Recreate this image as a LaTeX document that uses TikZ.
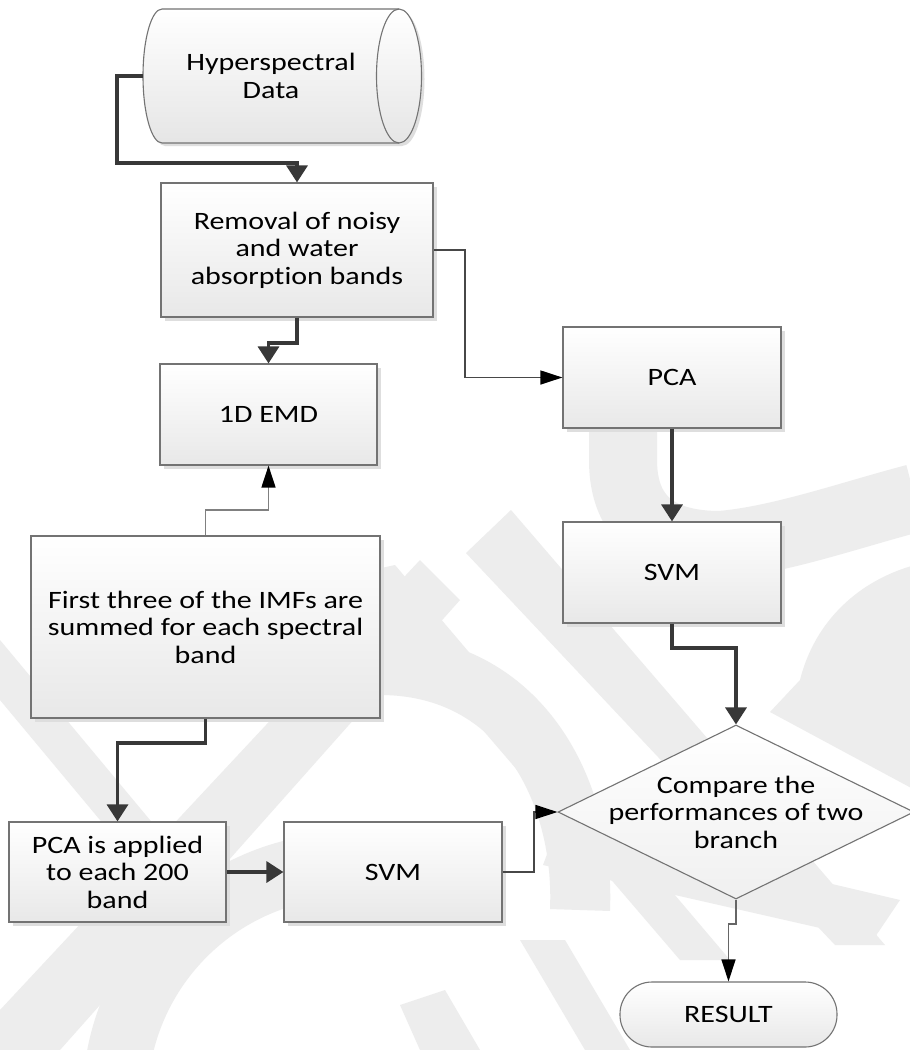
\documentclass[tikz,border=0pt]{standalone}
\usepackage{fontspec}
\setmainfont{Carlito}[FakeStretch=1.2,Ligatures={NoCommon}]
\usetikzlibrary{arrows.meta,shapes.geometric,shadows}
\begin{document}
\begin{tikzpicture}[x=1pt,y=-1pt,
  wm/.style={fill=black!7},
  wml/.style={draw=black!7},
  txt/.style={font=\fontsize{25}{27.5}\selectfont, align=center, text=black},
  shade/.style={top color=white, bottom color=black!9},
  box/.style={txt, shade, draw=black!55, line width=1.2pt, inner sep=0pt,
    drop shadow={shadow xshift=4pt, shadow yshift=-4pt, fill=black!13, opacity=1}},
  tk/.style={draw=black!78, line width=3.4pt, -{Triangle[width=21pt,length=17pt]}},
  tn/.style={draw=black!72, line width=1.4pt, -{Triangle[width=14pt,length=22pt,color=black]}},
]
\useasboundingbox (0,0) rectangle (910,1050);
\fill[white] (0,0) rectangle (910,1050);

% ---- watermark (faint) ----
\begin{scope}
\clip (0,0) rectangle (910,1050);
\fill[wm] (511,510) -- (885,945) -- (835,945) -- (466,553) -- cycle;
\fill[wm] (395,565) -- (730,960) -- (680,960) -- (350,575) -- cycle;
\fill[wm] (0,640) -- (200,880) -- (150,880) -- (0,700) -- cycle;
\fill[wm] (420,560) -- (460,600) -- (60,1050) -- (0,1050) -- (0,1010) -- cycle;
\fill[wm] (543,865) -- (873,940) -- (900,900) -- (560,820) -- cycle;
\draw[wml, line width=65pt] (350,1100) ++(160:235) arc[start angle=160, end angle=265, radius=235];
\draw[wml, line width=60pt] (380,665) .. controls (520,665) and (585,790) .. (580,910);
\draw[wml, line width=68pt] (623,410) -- (623,460) .. controls (623,520) and (660,545) .. (720,545)
   .. controls (780,540) and (850,515) .. (915,498);
\fill[wm] (915,565) .. controls (860,580) and (815,620) .. (800,680) -- (770,712) -- (915,790) -- cycle;
\fill[wm] (520,940) -- (565,940) -- (630,1050) -- (585,1050) -- cycle;
\fill[wm] (400,1005) -- (445,990) -- (480,1050) -- (420,1050) -- cycle;
\end{scope}

% ---- cylinder ----
\fill[black!13] ([xshift=3pt,yshift=-3pt]162,9) -- ++(237,0) arc[start angle=-90,end angle=90,x radius=22.5,y radius=67]
  -- ++(-237,0) arc[start angle=90,end angle=270,x radius=19,y radius=67] -- cycle;
\path[draw=black!55, line width=1.1pt, top color=white, bottom color=black!10]
  (162,9) -- (399,9) arc[start angle=-90,end angle=90,x radius=22.5,y radius=67]
  -- (162,143) arc[start angle=90,end angle=270,x radius=19,y radius=67] -- cycle;
\draw[black!55, line width=1.1pt] (399,9) arc[start angle=-90,end angle=-270,x radius=22.5,y radius=67];
\node[txt, minimum width=256pt, minimum height=134pt, inner sep=0pt] (hyp) at (271,76) {Hyperspectral\\Data};

% ---- boxes ----
\node[box, minimum width=272pt, minimum height=134pt] (rem) at (297,250) {Removal of noisy\\and water\\absorption bands};
\node[box, minimum width=217pt, minimum height=101pt] (emd) at (268.5,414.5) {1D EMD};
\node[box, minimum width=349pt, minimum height=182pt] (first) at (205.5,627) {First three of the IMFs are\\summed for each spectral\\band};
\node[box, minimum width=217pt, minimum height=100pt] (pcaapp) at (117.5,872) {PCA is applied\\to each 200\\band};
\node[box, minimum width=218pt, minimum height=100pt] (svmb) at (393,872) {SVM};
\node[box, minimum width=218pt, minimum height=101pt] (pca) at (672,377.5) {PCA};
\node[box, minimum width=218pt, minimum height=101pt] (svma) at (672,572.5) {SVM};
\node[shape=diamond, draw=black!55, line width=1.1pt, top color=white, bottom color=black!6,
  minimum width=356pt, minimum height=174pt, inner sep=0pt] (cmp) at (736,812) {};
\node[txt] (cmptxt) at (cmp.center) {Compare the\\performances of two\\branch};
\node[txt, draw=black!55, line width=1.1pt, shade, rounded corners=32pt,
  minimum width=217pt, minimum height=65pt, inner sep=0pt] (res) at (728.5,1014.5) {RESULT};

% ---- connectors ----
\draw[tk] (hyp.west) -- (117,76) -- (117,163) -- (297,163) -- (rem.north);
\draw[tk] (rem.south) -- (297,343) -- (268.5,343) -- (emd.north);
\draw[tn] (rem.east) -- (465,250) -- (465,377.5) -- (pca.west);
\draw[tn, draw=black!50] (first.north) -- (205.5,510) -- (268.5,510) -- (emd.south);
\draw[tk] (first.south) -- (205.5,743) -- (117.5,743) -- (pcaapp.north);
\draw[tk] (pcaapp.east) -- (svmb.west);
\draw[tn] (svmb.east) -- (534,872) -- (534,812) -- (cmp.west);
\draw[tk] (pca.south) -- (svma.north);
\draw[tk] (svma.south) -- (672,648) -- (736,648) -- (cmp.north);
\draw[tn, draw=black!60] (cmp.south) -- (736,924) -- (728.5,924) -- (res.north);
\end{tikzpicture}
\end{document}
